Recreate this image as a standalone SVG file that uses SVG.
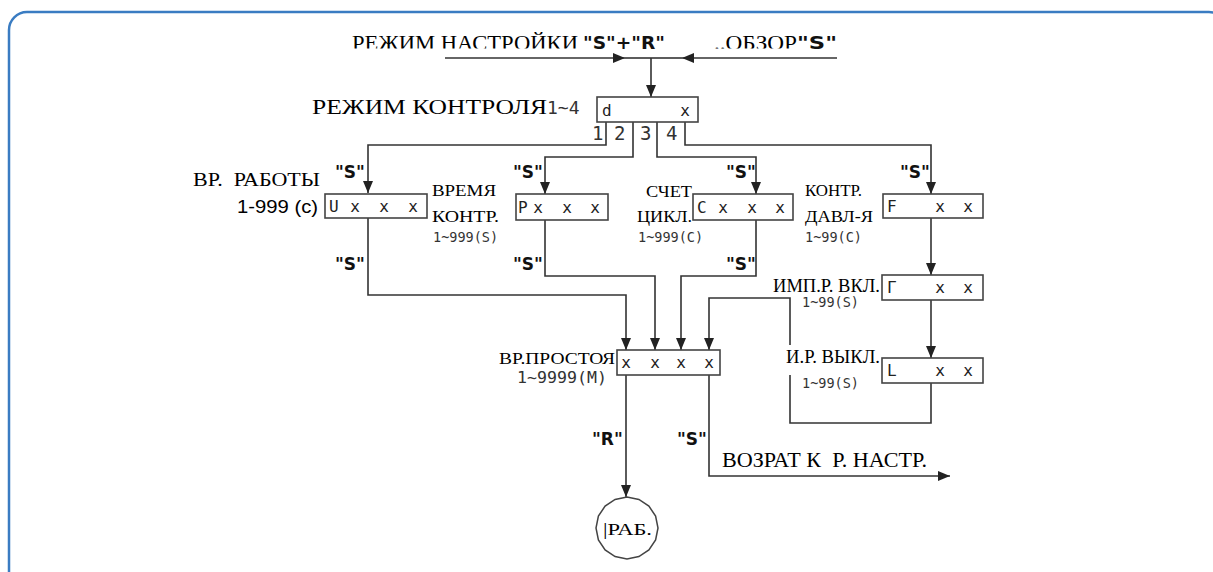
<svg xmlns="http://www.w3.org/2000/svg" width="1213" height="572" viewBox="0 0 1213 572">
<style>
.frame{fill:#fff;stroke:#3a7cc2;stroke-width:2.5}
.box{fill:#fff;stroke:#444;stroke-width:1.6}
.ln{fill:none;stroke:#333;stroke-width:1.6}
.ser{font-family:"Liberation Serif",serif;fill:#000}
.mono{font-family:"DejaVu Sans Mono",monospace;fill:#333}
.q{font-family:"DejaVu Sans","Liberation Sans",sans-serif;font-weight:bold;font-size:17px;fill:#111}
.bx{font-family:"DejaVu Sans Mono",monospace;font-size:16px;fill:#222}
.bxm{font-family:"DejaVu Sans Mono",monospace;font-size:16px;fill:#222;text-anchor:middle}
.bg{fill:#fff}
</style>
<defs>
<marker id="ar" markerUnits="userSpaceOnUse" markerWidth="12" markerHeight="10" refX="12" refY="5" orient="auto">
<path d="M0,0 L12,5 L0,10 z" fill="#222"/>
</marker>
<clipPath id="topclip"><rect x="0" y="0" width="1213" height="48.5"/></clipPath>
</defs>
<rect class="frame" x="9" y="12" width="1218" height="580" rx="18"/>

<g id="connectors">
<path class="ln" d="M445,58 H625" marker-end="url(#ar)"/>
<path class="ln" d="M625,58 H651"/>
<path class="ln" d="M837,58 H682" marker-end="url(#ar)"/>
<path class="ln" d="M682,58 H651"/>
<path class="ln" d="M651,58 V97" marker-end="url(#ar)"/>
<path class="ln" d="M606,122 V145 H368 V193" marker-end="url(#ar)"/>
<path class="ln" d="M633,122 V157 H545 V194" marker-end="url(#ar)"/>
<path class="ln" d="M657,122 V157 H756 V194" marker-end="url(#ar)"/>
<path class="ln" d="M685,122 V145 H931 V194" marker-end="url(#ar)"/>
<path class="ln" d="M368,218 V295 H626 V350" marker-end="url(#ar)"/>
<path class="ln" d="M545,220 V276 H655 V350" marker-end="url(#ar)"/>
<path class="ln" d="M756,220 V276 H681 V350" marker-end="url(#ar)"/>
<path class="ln" d="M931,218 V275" marker-end="url(#ar)"/>
<path class="ln" d="M931,300 V358" marker-end="url(#ar)"/>
<path class="ln" d="M931,383 V423 H790 V298 H709 V350" marker-end="url(#ar)"/>
<path class="ln" d="M626,375 V497" marker-end="url(#ar)"/>
<path class="ln" d="M709,375 V476 H950" marker-end="url(#ar)"/>
</g>

<g id="title-labels">
<g clip-path="url(#topclip)">
<text class="ser" x="352" y="50" font-size="21" textLength="226" lengthAdjust="spacingAndGlyphs">РЕЖИМ НАСТРОЙКИ</text>
<text class="ser" x="714" y="50" font-size="21" textLength="83" lengthAdjust="spacingAndGlyphs">..ОБЗОР</text>
</g>
<text class="q" x="583" y="49" textLength="82" lengthAdjust="spacingAndGlyphs">"S"+"R"</text>
<text class="q" x="797" y="49" textLength="40" lengthAdjust="spacingAndGlyphs">"S"</text>
</g>

<g id="node-d">
<text class="ser" x="312" y="114" font-size="21" textLength="235" lengthAdjust="spacingAndGlyphs">РЕЖИМ КОНТРОЛЯ</text>
<text class="mono" x="547" y="114" font-size="18" fill="#222">1~4</text>
<rect class="box" x="597" y="97" width="101" height="25"/>
<text class="bx" x="602" y="116">d</text>
<text class="bxm" x="685" y="116">x</text>
<text class="mono" x="592" y="140" font-size="19" fill="#222">1</text>
<text class="mono" x="614" y="140" font-size="19" fill="#222">2</text>
<text class="mono" x="640" y="140" font-size="19" fill="#222">3</text>
<text class="mono" x="666" y="140" font-size="19" fill="#222">4</text>
</g>

<g id="node-U">
<text class="ser" x="193" y="186" font-size="18" textLength="127" lengthAdjust="spacingAndGlyphs" xml:space="preserve">ВР.  РАБОТЫ</text>
<text x="237" y="213" font-size="19" textLength="81" lengthAdjust="spacingAndGlyphs" font-family="Liberation Sans,sans-serif">1-999 (c)</text>
<text class="q" x="335" y="178">"S"</text>
<text class="q" x="335" y="270">"S"</text>
<rect class="box" x="325" y="194" width="102" height="24"/>
<text class="bx" x="329" y="212">U</text>
<text class="bxm" x="355" y="212">x</text>
<text class="bxm" x="384" y="212">x</text>
<text class="bxm" x="413" y="212">x</text>
</g>

<g id="node-P">
<text class="ser" x="432" y="196" font-size="16" textLength="64" lengthAdjust="spacingAndGlyphs">ВРЕМЯ</text>
<text class="ser" x="432" y="222" font-size="16" textLength="67" lengthAdjust="spacingAndGlyphs">КОНТР.</text>
<text class="mono" x="433" y="242" font-size="13.5">1~999(S)</text>
<text class="q" x="513" y="178">"S"</text>
<text class="q" x="513" y="270">"S"</text>
<rect class="box" x="516" y="194" width="92" height="26"/>
<text class="bx" x="518" y="213">P</text>
<text class="bxm" x="538" y="213">x</text>
<text class="bxm" x="567" y="213">x</text>
<text class="bxm" x="595" y="213">x</text>
</g>

<g id="node-C">
<text class="ser" x="646" y="197" font-size="16" textLength="46" lengthAdjust="spacingAndGlyphs">СЧЕТ</text>
<text class="ser" x="637" y="222" font-size="16" textLength="55" lengthAdjust="spacingAndGlyphs">ЦИКЛ.</text>
<text class="mono" x="638" y="242" font-size="13.5">1~999(C)</text>
<text class="q" x="726" y="178">"S"</text>
<text class="q" x="726" y="270">"S"</text>
<rect class="box" x="693" y="194" width="100" height="26"/>
<text class="bx" x="697" y="213">C</text>
<text class="bxm" x="723" y="213">x</text>
<text class="bxm" x="752" y="213">x</text>
<text class="bxm" x="780" y="213">x</text>
</g>

<g id="node-F">
<text class="ser" x="805" y="196" font-size="16" textLength="57" lengthAdjust="spacingAndGlyphs">КОНТР.</text>
<text class="ser" x="805" y="222" font-size="16" textLength="68" lengthAdjust="spacingAndGlyphs">ДАВЛ-Я</text>
<text class="mono" x="805" y="242" font-size="13.5">1~99(C)</text>
<text class="q" x="900" y="178">"S"</text>
<rect class="box" x="883" y="194" width="100" height="24"/>
<text class="bx" x="887" y="212">F</text>
<text class="bxm" x="940" y="212">x</text>
<text class="bxm" x="968" y="212">x</text>
</g>

<g id="node-G">
<text class="ser" x="773" y="292" font-size="18" textLength="107" lengthAdjust="spacingAndGlyphs">ИМП.Р. ВКЛ.</text>
<text class="mono" x="802" y="307" font-size="13.5">1~99(S)</text>
<rect class="box" x="882" y="275" width="101" height="25"/>
<text class="bx" x="887" y="293">Г</text>
<text class="bxm" x="940" y="293">x</text>
<text class="bxm" x="968" y="293">x</text>
</g>

<g id="node-L">
<rect class="bg" x="784" y="345" width="97" height="30"/>
<text class="ser" x="786" y="363" font-size="18" textLength="94" lengthAdjust="spacingAndGlyphs">И.Р. ВЫКЛ.</text>
<text class="mono" x="802" y="388" font-size="13.5">1~99(S)</text>
<rect class="box" x="882" y="358" width="101" height="25"/>
<text class="bx" x="887" y="376">L</text>
<text class="bxm" x="940" y="376">x</text>
<text class="bxm" x="968" y="376">x</text>
</g>

<g id="node-idle">
<text class="ser" x="499" y="364" font-size="17" textLength="116" lengthAdjust="spacingAndGlyphs">ВР.ПРОСТОЯ</text>
<text class="mono" x="517" y="383" font-size="16" textLength="90" lengthAdjust="spacingAndGlyphs">1~9999(M)</text>
<rect class="box" x="617" y="350" width="103" height="25"/>
<text class="bxm" x="626" y="368">x</text>
<text class="bxm" x="655" y="368">x</text>
<text class="bxm" x="681" y="368">x</text>
<text class="bxm" x="709" y="368">x</text>
<text class="q" x="592" y="445">"R"</text>
<text class="q" x="677" y="445">"S"</text>
</g>

<g id="node-return">
<text class="ser" x="722" y="467" font-size="20" textLength="205" lengthAdjust="spacingAndGlyphs" xml:space="preserve">ВОЗРАТ К  Р. НАСТР.</text>
</g>

<g id="node-run">
<polygon points="658,528 655.6,539.9 648.9,549.9 638.9,556.6 627,559 615.1,556.6 605.1,549.9 598.4,539.9 596,528 598.4,516.1 605.1,506.1 615.1,499.4 627,497 638.9,499.4 648.9,506.1 655.6,516.1" fill="#fff" stroke="#444" stroke-width="1.5"/>
<text class="ser" x="603" y="535" font-size="17" textLength="49" lengthAdjust="spacingAndGlyphs">|РАБ.</text>
</g>
</svg>
